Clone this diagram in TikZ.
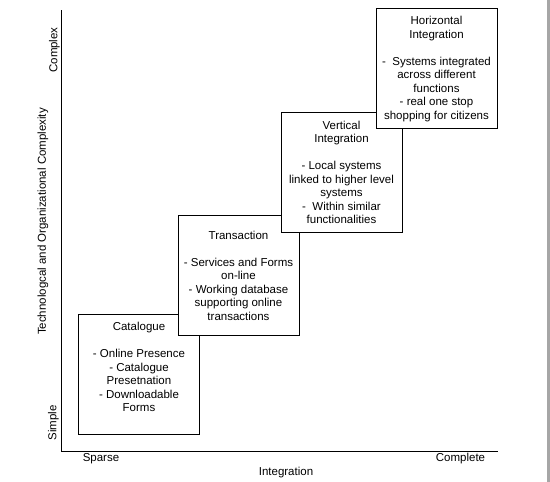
\documentclass[tikz,border=0pt]{standalone}
\usepackage{fontspec}
\setmainfont{Liberation Sans}
\begin{document}
\begin{tikzpicture}[x=1pt,y=-1pt,
  stagebox/.style={draw=black,line width=1pt,fill=white,rectangle,inner sep=0pt,minimum width=121pt,minimum height=120pt},
  stagetext/.style={align=center,font=\fontsize{11.5}{13.5}\selectfont,inner sep=0pt},
  lbl/.style={font=\fontsize{11.5}{13.5}\selectfont,inner sep=0pt},
  axisline/.style={line width=1.2pt}]
\useasboundingbox (0,0) rectangle (550,482);
\fill[white] (0,0) rectangle (550,482);
\fill[gray!70] (546.5,0) rectangle (550,482);
% axes
\coordinate (top) at (61.5,10);
\coordinate (origin) at (61.5,451.5);
\coordinate (right) at (497.5,451.5);
\draw[axisline] (top) -- (origin) -- (right);
% boxes
\node[stagebox] (cat) at (139,374) {};
\node[stagetext] (cattext) at (139,367) {Catalogue\\[13.5pt]- Online Presence\\- Catalogue\\Presetnation\\- Downloadable\\Forms};
\node[stagebox] (trans) at (238.5,275) {};
\node[stagetext] (transtext) at (238.5,275.5) {Transaction\\[13.5pt]- Services and Forms\\on-line\\- Working database\\supporting online\\transactions};
\node[stagebox] (vert) at (341.5,172) {};
\node[stagetext] (verttext) at (341.5,172.5) {Vertical\\Integration\\[13.5pt]- Local systems\\linked to higher level\\systems\\-\ \ Within similar\\functionalities};
\node[stagebox] (horiz) at (436.5,68.5) {};
\node[stagetext] (horiztext) at (436.5,69) {Horizontal\\Integration\\[13.5pt]-\ \ Systems integrated\\across different\\functions\\- real one stop\\shopping for citizens};
% axis labels
\node[lbl,rotate=90] (ylabel) at (43,221.5) {Technologcal and Organizational Complexity};
\node[lbl,rotate=90] (complex) at (54.5,50) {Complex};
\node[lbl,rotate=90] (simple) at (53.5,423) {Simple};
\node[lbl] (sparse) at (101,459) {Sparse};
\node[lbl] (complete) at (460.5,459) {Complete};
\node[lbl] (xlabel) at (286,472.5) {Integration};
\end{tikzpicture}
\end{document}
